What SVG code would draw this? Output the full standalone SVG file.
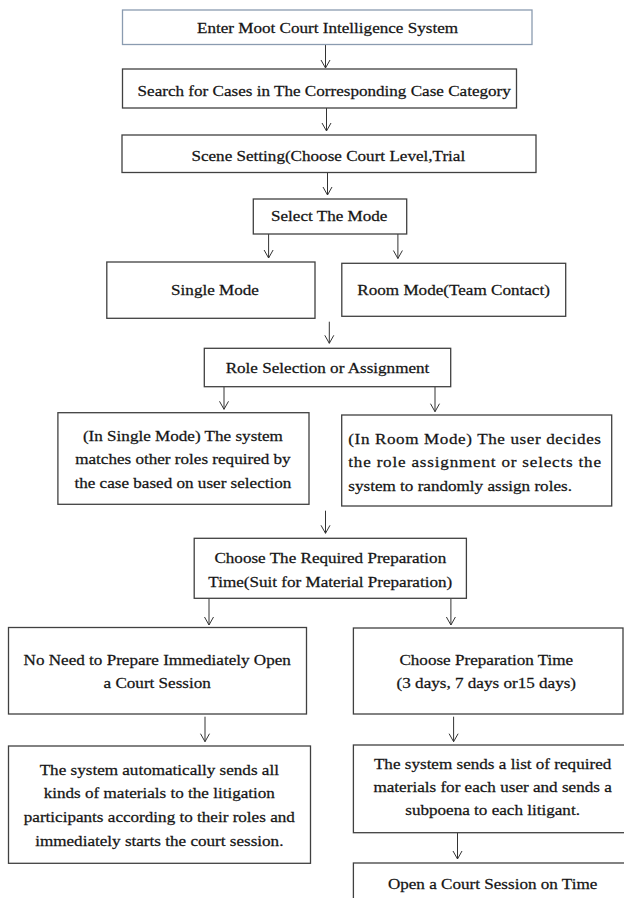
<svg xmlns="http://www.w3.org/2000/svg" width="624" height="898" viewBox="0 0 624 898">
<style>
  .box { fill: #ffffff; stroke: #404040; stroke-width: 1.3; }
  .box1 { fill: #ffffff; stroke: #8a9bb0; stroke-width: 1.3; }
  .t { font-family: "Liberation Serif", "Times New Roman", serif; font-size: 15px; fill: #151515; stroke: #151515; stroke-width: 0.25; text-anchor: middle; }
  .tl { font-family: "Liberation Serif", "Times New Roman", serif; font-size: 15px; fill: #151515; stroke: #151515; stroke-width: 0.25; text-anchor: start; }
  .conn { stroke: #333333; stroke-width: 1; fill: none; marker-end: url(#arr); }
</style>
<defs>
  <marker id="arr" markerUnits="userSpaceOnUse" markerWidth="12" markerHeight="12" viewBox="-10 -6 12 12" refX="0" refY="0" orient="auto">
    <path d="M-8,-4.5 L0,0 L-8,4.5" fill="none" stroke="#333333" stroke-width="1"/>
  </marker>
</defs>
<rect width="624" height="898" fill="#ffffff"/>

<g id="connectors">
  <line class="conn" x1="325.5" y1="44.5" x2="325.5" y2="68"/>
  <line class="conn" x1="326.5" y1="108" x2="326.5" y2="131"/>
  <line class="conn" x1="327.5" y1="172.5" x2="327.5" y2="195"/>
  <line class="conn" x1="268.6" y1="234" x2="268.6" y2="258"/>
  <line class="conn" x1="397.9" y1="234" x2="397.9" y2="258.5"/>
  <line class="conn" x1="329.3" y1="321.7" x2="329.3" y2="343.3"/>
  <line class="conn" x1="224" y1="386.7" x2="224" y2="409.3"/>
  <line class="conn" x1="435" y1="386.7" x2="435" y2="411.7"/>
  <line class="conn" x1="325.5" y1="510.7" x2="325.5" y2="533.3"/>
  <line class="conn" x1="209" y1="598.3" x2="209" y2="625"/>
  <line class="conn" x1="450.9" y1="598.3" x2="450.9" y2="625"/>
  <line class="conn" x1="205" y1="716.7" x2="205" y2="741.7"/>
  <line class="conn" x1="453.6" y1="716.7" x2="453.6" y2="741.7"/>
  <line class="conn" x1="457.5" y1="832.7" x2="457.5" y2="859"/>
</g>

<g id="n1">
  <rect class="box1" x="122.5" y="10" width="409.5" height="34.5"/>
  <g transform="translate(327.5,0) scale(1.14,1)"><text class="t" x="0" y="33.5">Enter Moot Court Intelligence System</text></g>
</g>
<g id="n2">
  <rect class="box" x="122.5" y="69" width="394" height="39"/>
  <g transform="translate(324.2,0) scale(1.14,1)"><text class="t" x="0" y="96">Search for Cases in The Corresponding Case Category</text></g>
</g>
<g id="n3">
  <rect class="box" x="122" y="135" width="414" height="37.5"/>
  <g transform="translate(328.3,0) scale(1.14,1)"><text class="t" x="0" y="161">Scene Setting(Choose Court Level,Trial</text></g>
</g>
<g id="n4">
  <rect class="box" x="253.3" y="199" width="153.4" height="35"/>
  <g transform="translate(329.2,0) scale(1.14,1)"><text class="t" x="0" y="221.5">Select The Mode</text></g>
</g>
<g id="n5">
  <rect class="box" x="106.8" y="262" width="208.2" height="56.3"/>
  <g transform="translate(215,0) scale(1.14,1)"><text class="t" x="0" y="295">Single Mode</text></g>
</g>
<g id="n6">
  <rect class="box" x="341.8" y="263.3" width="223.9" height="53"/>
  <g transform="translate(453.6,0) scale(1.14,1)"><text class="t" x="0" y="295">Room Mode(Team Contact)</text></g>
</g>
<g id="n7">
  <rect class="box" x="204.3" y="348.3" width="246.4" height="38.4"/>
  <g transform="translate(327.5,0) scale(1.14,1)"><text class="t" x="0" y="373">Role Selection or Assignment</text></g>
</g>
<g id="n8">
  <rect class="box" x="57.9" y="412.7" width="251.1" height="91.6"/>
  <g transform="translate(182.9,0) scale(1.14,1)">
    <text class="t" x="0" y="441">(In Single Mode) The system</text>
    <text class="t" x="0" y="464.5">matches other roles required by</text>
    <text class="t" x="0" y="488.5">the case based on user selection</text>
  </g>
</g>
<g id="n9">
  <rect class="box" x="341.7" y="415" width="270" height="91"/>
  <g transform="translate(348.3,0) scale(1.14,1)">
    <text class="tl" x="0" y="444" textLength="221.7" lengthAdjust="spacing">(In Room Mode) The user decides</text>
    <text class="tl" x="0" y="467" textLength="221.7" lengthAdjust="spacing">the role assignment or selects the</text>
    <text class="tl" x="0" y="491">system to randomly assign roles.</text>
  </g>
</g>
<g id="n10">
  <rect class="box" x="194.2" y="538.3" width="272.2" height="60"/>
  <g transform="translate(330.3,0) scale(1.14,1)">
    <text class="t" x="0" y="563.5">Choose The Required Preparation</text>
    <text class="t" x="0" y="587">Time(Suit for Material Preparation)</text>
  </g>
</g>
<g id="n11">
  <rect class="box" x="8.5" y="627.5" width="298" height="86.5"/>
  <g transform="translate(157.2,0) scale(1.14,1)">
    <text class="t" x="0" y="665">No Need to Prepare Immediately Open</text>
    <text class="t" x="0" y="688.5">a Court Session</text>
  </g>
</g>
<g id="n12">
  <rect class="box" x="353.4" y="628" width="269.6" height="86"/>
  <g transform="translate(486.3,0) scale(1.14,1)">
    <text class="t" x="0" y="665">Choose Preparation Time</text>
    <text class="t" x="0" y="688.5">(3 days, 7 days or15 days)</text>
  </g>
</g>
<g id="n13">
  <rect class="box" x="8.5" y="746" width="302" height="117.3"/>
  <g transform="translate(159.3,0) scale(1.14,1)">
    <text class="t" x="0" y="775">The system automatically sends all</text>
    <text class="t" x="0" y="798.5">kinds of materials to the litigation</text>
    <text class="t" x="0" y="822.5">participants according to their roles and</text>
    <text class="t" x="0" y="846.5">immediately starts the court session.</text>
  </g>
</g>
<g id="n14">
  <rect class="box" x="353.4" y="745" width="280" height="87.7"/>
  <g transform="translate(492.6,0) scale(1.14,1)">
    <text class="t" x="0" y="769">The system sends a list of required</text>
    <text class="t" x="0" y="792">materials for each user and sends a</text>
    <text class="t" x="0" y="815.5">subpoena to each litigant.</text>
  </g>
</g>
<g id="n15">
  <rect class="box" x="353.4" y="863" width="280" height="50"/>
  <g transform="translate(492.6,0) scale(1.14,1)"><text class="t" x="0" y="889">Open a Court Session on Time</text></g>
</g>
</svg>
